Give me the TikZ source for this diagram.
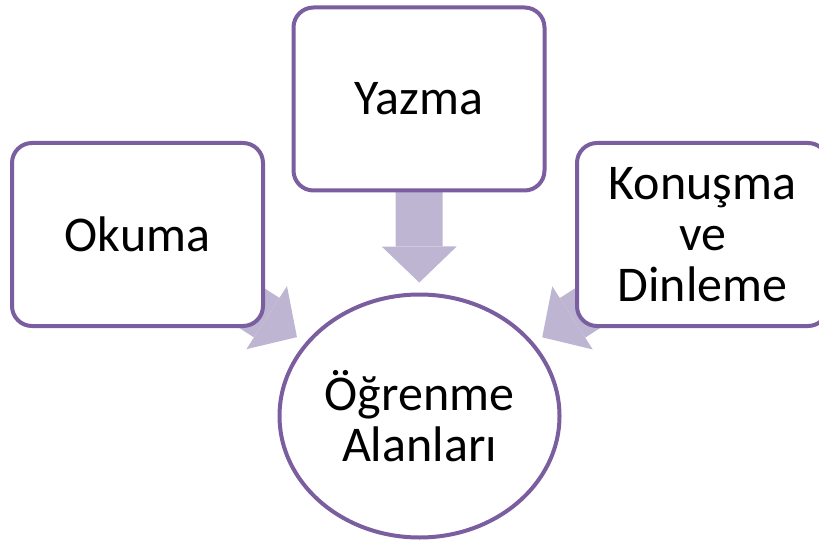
\documentclass[tikz,border=0pt]{standalone}
\usepackage{fontspec}
\setmainfont{Carlito}
\usetikzlibrary{shapes.geometric,arrows.meta,backgrounds}
\definecolor{framepurple}{HTML}{7A5E9F}
\definecolor{arrowlilac}{HTML}{BEB5D3}
\begin{document}
\begin{tikzpicture}[x=1pt,y=-1pt,
  labelfont/.style={font=\fontsize{50}{51}\selectfont},
  topic/.style={draw=framepurple, line width=4pt, fill=white,
    rounded corners=20pt, minimum width=251pt, minimum height=183pt,
    inner sep=0pt, align=center, labelfont},
  hub/.style={ellipse, draw=framepurple, line width=4pt, fill=white,
    minimum width=280pt, minimum height=243pt, inner sep=0pt,
    align=center, labelfont},
  flow/.style={draw=arrowlilac, line width=47pt, shorten >=10pt,
    -{Triangle[length=36pt, width=75pt, line width=0pt]}}]
  \useasboundingbox (0,0) rectangle (819,540);
  \clip (0,0) rectangle (819,540);

  % four areas around the central hub
  \node[topic] (yazma)   at (419,99)    {Yazma};
  \node[topic] (okuma)   at (137.5,234.5) {Okuma};
  \node[topic] (konusma) at (702.5,234.5) {Konuşma\\ve\\Dinleme};
  \node[hub]   (hub)     at (419.5,416) {Öğrenme\\Alanları};

  % block arrows, kept behind the boxes
  \begin{scope}[on background layer]
    \draw[flow] (yazma.center)   -- (hub);
    \draw[flow] (okuma.center)   -- (hub);
    \draw[flow] (konusma.center) -- (hub);
  \end{scope}
\end{tikzpicture}
\end{document}
